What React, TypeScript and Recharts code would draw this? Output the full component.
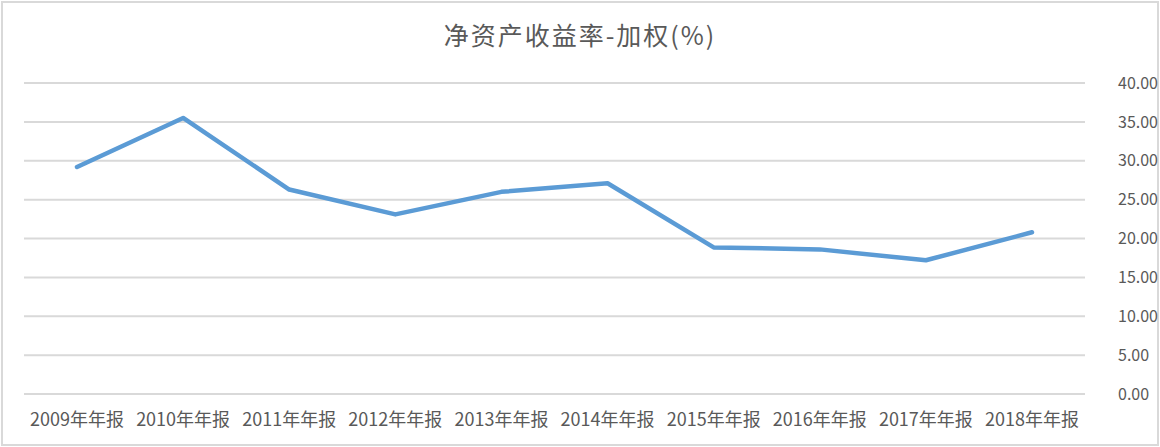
import React from 'react';
import { LineChart, Line, XAxis, YAxis, CartesianGrid } from 'recharts';

const categories = ['2009年年报', '2010年年报', '2011年年报', '2012年年报', '2013年年报', '2014年年报', '2015年年报', '2016年年报', '2017年年报', '2018年年报'];
const roeValues = [29.2, 35.5, 26.3, 23.1, 26.0, 27.1, 18.85, 18.6, 17.2, 20.8];
const yTicks = [0, 5, 10, 15, 20, 25, 30, 35, 40];
const title = '净资产收益率-加权(%)';

const data = categories.map((c, i) => ({ name: c, value: roeValues[i] }));

const FONT = '"Noto Sans CJK SC", "Noto Sans", sans-serif';

export default function App() {
  return (
    <div style={{ position: 'absolute', left: 0, top: 0, width: 1160, height: 447, background: '#fff', fontFamily: FONT }}>
      <div style={{ position: 'absolute', left: 1, top: 1, width: 1158, height: 445, boxSizing: 'border-box', border: '2px solid #d9d9d9' }} />
      <div style={{ position: 'absolute', left: 0, top: 14, width: 1160, textAlign: 'center', fontSize: 25, color: '#595959', letterSpacing: 2, lineHeight: '40px' }}>
        {title}
      </div>
      <LineChart width={1160} height={447} data={data} margin={{ top: 83, right: 0, bottom: 0, left: 24 }}>
        <CartesianGrid vertical={false} stroke="#d9d9d9" strokeWidth={2} />
        <XAxis
          dataKey="name"
          axisLine={false}
          tickLine={false}
          interval={0}
          padding={{ left: 53, right: 53 }}
          tick={{ fill: '#595959', fontSize: 18, fontFamily: FONT }}
          tickMargin={13}
          height={53}
        />
        <YAxis
          orientation="right"
          domain={[0, 40]}
          ticks={yTicks}
          axisLine={false}
          tickLine={false}
          width={75}
          tickMargin={27}
          tickFormatter={(v: number) => v.toFixed(2)}
          tick={{ fill: '#595959', fontSize: 16, fontFamily: FONT }}
        />
        <Line type="linear" dataKey="value" stroke="#5b9bd5" strokeWidth={4.5} dot={false} isAnimationActive={false} strokeLinejoin="round" strokeLinecap="round" />
      </LineChart>
    </div>
  );
}
